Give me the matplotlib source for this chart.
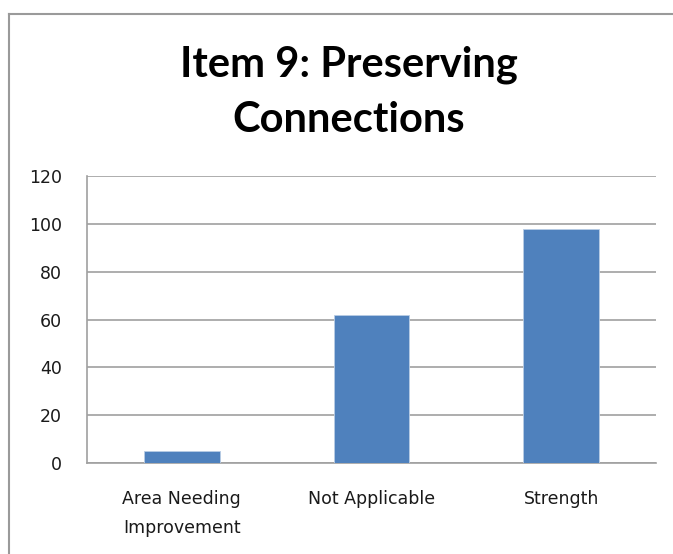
import matplotlib
matplotlib.use("Agg")
from matplotlib import pyplot as plt
from matplotlib.lines import Line2D

categories = ["Area Needing\nImprovement", "Not Applicable", "Strength"]
counts = [5, 62, 98]
y_ticks = [0, 20, 40, 60, 80, 100, 120]

def main():
    plt.rcParams["font.family"] = ["DejaVu Sans"]
    fig = plt.figure(figsize=(6.73, 5.54), dpi=100)
    ax = fig.add_axes([0.129, 0.164, 0.846, 0.518])

    ## Barras
    x = range(len(categories))
    ax.bar(x, counts, width=0.4, color="#4F81BD", edgecolor="#B9CDE5",
           linewidth=0.6, zorder=3)

    ax.set_xlim(-0.5, len(categories) - 0.5)
    ax.set_ylim(0, 120)
    ax.set_yticks(y_ticks)
    ax.set_xticks(list(x))
    ax.set_xticklabels(categories, fontsize=12.5, color="#1a1a1a", linespacing=1.8)
    ax.tick_params(axis="y", labelsize=12.5, labelcolor="#1a1a1a", length=0, pad=18)
    ax.tick_params(axis="x", length=0, pad=19)

    ## Rejilla
    ax.grid(axis="y", color="#A0A0A0", linewidth=1.2, zorder=0)
    for s in ["top", "right"]:
        ax.spines[s].set_visible(False)
    for s in ["left", "bottom"]:
        ax.spines[s].set_color("#A0A0A0")
        ax.spines[s].set_linewidth(1.2)

    fig.text(0.518, 0.834, "Item 9: Preserving\nConnections", ha="center",
             va="center", fontsize=30, fontweight="bold", linespacing=1.55,
             family=["Lato", "DejaVu Sans"])

    ## Borde del grafico (solo arriba e izquierda)
    top = 1 - 13.5 / 554
    left = 8.5 / 673
    fig.add_artist(Line2D([left, 1], [top, top], color="#9A9A9A", lw=1.5,
                          transform=fig.transFigure))
    fig.add_artist(Line2D([left, left], [0, top], color="#9A9A9A", lw=1.5,
                          transform=fig.transFigure))

    plt.savefig("out.png", dpi=100)

if __name__ == "__main__":
    main()
